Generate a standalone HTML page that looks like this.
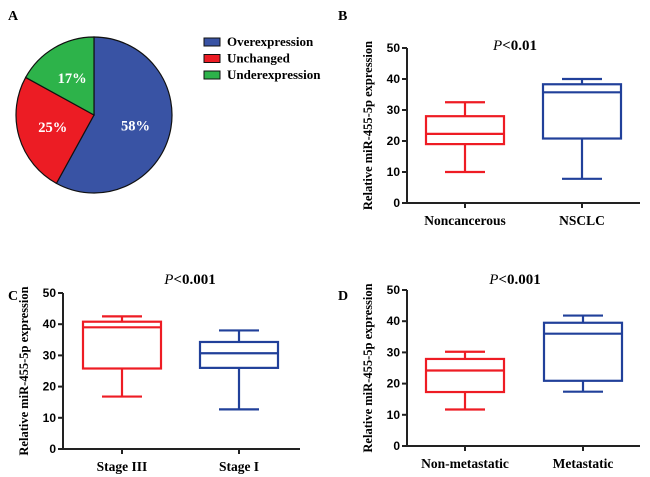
<!DOCTYPE html>
<html><head><meta charset="utf-8"><style>
body{margin:0;background:#fff;}
svg{display:block;font-family:"Liberation Serif",serif;}
.tick{font-family:"Liberation Sans",sans-serif;font-weight:bold;font-size:12px;}
.lbl{font-weight:bold;}
</style></head><body>
<svg id="fig" width="650" height="477" viewBox="0 0 650 477">
<g id="pie"></g>
<g id="pB"></g>
<g id="pC"></g>
<g id="pD"></g>
<text x="8" y="20" font-size="14" font-weight="bold">A</text>
<text x="338" y="20" font-size="14" font-weight="bold">B</text>
<text x="8" y="300" font-size="14" font-weight="bold">C</text>
<text x="338" y="300" font-size="14" font-weight="bold">D</text>
</svg>
<script>
const pieLabels = ["Overexpression","Unchanged","Underexpression"];
const pieValues = [58,25,17];
const pieColors = ["#3953a4","#ec1c24","#2db34a"];

const catsB = ["Noncancerous","NSCLC"];
const minB = [10,7.8], q1B = [19,20.8], medB = [22.3,35.7], q3B = [28,38.3], maxB = [32.5,40];
const catsC = ["Stage III","Stage I"];
const minC = [16.8,12.7], q1C = [25.8,26], medC = [39,30.7], q3C = [40.8,34.3], maxC = [42.5,38];
const catsD = ["Non-metastatic","Metastatic"];
const minD = [11.7,17.4], q1D = [17.3,20.9], medD = [24.2,36], q3D = [27.9,39.5], maxD = [30.2,41.8];
const yTicks = [0,10,20,30,40,50];
const boxColors = ["#ee1c24","#21409a"];

const NS = "http://www.w3.org/2000/svg";
function mk(parent, tag, attrs, text){
  const e = document.createElementNS(NS, tag);
  for (const k in attrs) e.setAttribute(k, attrs[k]);
  if (text !== undefined) e.textContent = text;
  parent.appendChild(e);
  return e;
}

// Pie
(function(){
  const g = document.getElementById('pie');
  const cx = 94, cy = 115, r = 78;
  const total = pieValues.reduce((a,b)=>a+b,0);
  let a0 = 0;
  pieValues.forEach((v,i)=>{
    const a1 = a0 + v/total*2*Math.PI;
    const x0 = cx + r*Math.sin(a0), y0 = cy - r*Math.cos(a0);
    const x1 = cx + r*Math.sin(a1), y1 = cy - r*Math.cos(a1);
    const large = (a1-a0) > Math.PI ? 1 : 0;
    const p = mk(g,'path',{d:`M${cx},${cy} L${x0},${y0} A${r},${r} 0 ${large} 1 ${x1},${y1} Z`,fill:pieColors[i],stroke:'#111','stroke-width':1.2});
    
    
    const am = (a0+a1)/2, lr = r*0.55;
    const t = mk(g,'text',{x:cx+lr*Math.sin(am), y:cy-lr*Math.cos(am)+5,'text-anchor':'middle',fill:'#fff','font-size':14.5,'font-weight':'bold'}, v+'%');
    
    
    const ly = 38 + i*16.5;
    const sw = mk(g,'rect',{x:204,y:ly,width:16,height:8,fill:pieColors[i],stroke:'#111','stroke-width':1});
    
    
    const lt = mk(g,'text',{x:227,y:ly+8,'font-size':13,'font-weight':'bold'}, pieLabels[i]);
    
    
    a0 = a1;
  });
})();

function boxplot(id, cats, mins, q1s, meds, q3s, maxs, ax, y0, y50, xs, xEnd, ptext, px, py){
  const g = document.getElementById(id);
  const ys = v => y0 + (y50 - y0) * v / 50;
  const ya = mk(g,'line',{x1:ax,y1:ys(0),x2:ax,y2:ys(50),stroke:'#222','stroke-width':2});
  
  
  const xa = mk(g,'line',{x1:ax,y1:ys(0),x2:xEnd,y2:ys(0),stroke:'#222','stroke-width':2});
  
  
  yTicks.forEach(t=>{
    mk(g,'line',{x1:ax-5,y1:ys(t),x2:ax,y2:ys(t),stroke:'#222','stroke-width':2});
    const tl = mk(g,'text',{x:ax-7,y:ys(t)+4,'text-anchor':'end',class:'tick'}, t);
    
    
  });
  const yt = mk(g,'text',{x:0,y:0,transform:`translate(${ax-35},${(ys(0)+ys(50))/2}) rotate(-90)`,'text-anchor':'middle','font-size':12.5,class:'lbl'}, 'Relative miR-455-5p expression');
  
  
  const pt = mk(g,'text',{x:px,y:py,'text-anchor':'middle','font-size':15}, '');
  
  
  mk(pt,'tspan',{'font-style':'italic'},'P');
  mk(pt,'tspan',{'font-weight':'bold'}, ptext);
  const bw = 78, cw = 40;
  cats.forEach((c,i)=>{
    const x = xs[i], col = boxColors[i];
    mk(g,'line',{x1:x,y1:ys(0),x2:x,y2:ys(0)+5,stroke:'#222','stroke-width':2});
    const cl = mk(g,'text',{x:x,y:ys(0)+22,'text-anchor':'middle','font-size':13.5,class:'lbl'}, c);
    
    
    const bg = mk(g,'g',{stroke:col,'stroke-width':2.2,fill:'none'});
    
    
    mk(bg,'rect',{x:x-bw/2,y:ys(q3s[i]),width:bw,height:ys(q1s[i])-ys(q3s[i])});
    mk(bg,'line',{x1:x-bw/2,y1:ys(meds[i]),x2:x+bw/2,y2:ys(meds[i])});
    mk(bg,'line',{x1:x,y1:ys(q3s[i]),x2:x,y2:ys(maxs[i])});
    mk(bg,'line',{x1:x,y1:ys(q1s[i]),x2:x,y2:ys(mins[i])});
    mk(bg,'line',{x1:x-cw/2,y1:ys(maxs[i]),x2:x+cw/2,y2:ys(maxs[i])});
    mk(bg,'line',{x1:x-cw/2,y1:ys(mins[i]),x2:x+cw/2,y2:ys(mins[i])});
  });
}
boxplot('pB', catsB, minB, q1B, medB, q3B, maxB, 407, 203, 48, [465,582], 640, '<0.01', 515, 50);
boxplot('pC', catsC, minC, q1C, medC, q3C, maxC, 63, 449, 293, [122,239], 300, '<0.001', 190, 284);
boxplot('pD', catsD, minD, q1D, medD, q3D, maxD, 407, 446, 290, [465,583], 640, '<0.001', 515, 284);
</script>
</body></html>
